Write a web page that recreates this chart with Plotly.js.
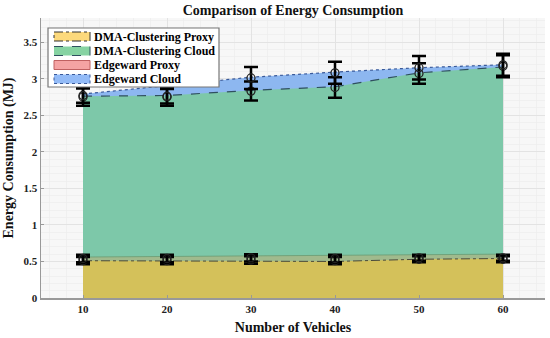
<!DOCTYPE html>
<html>
<head>
<meta charset="utf-8">
<script src="https://cdn.plot.ly/plotly-3.0.1.min.js"></script>
<style>html,body{margin:0;padding:0;background:#fff;}#chart{width:550px;height:338px;}</style>
</head>
<body>
<div id="chart"></div>
<script>
// ---- data ----
const vehicles = [10, 20, 30, 40, 50, 60];
const seriesNames = ['DMA-Clustering Proxy', 'DMA-Clustering Cloud', 'Edgeward Proxy', 'Edgeward Cloud'];
// area values
const dmaProxy  = [0.51, 0.51, 0.51, 0.50, 0.53, 0.54];
const dmaCloud  = [2.76, 2.77, 2.84, 2.89, 3.08, 3.16];
const edgeProxy = [0.56, 0.57, 0.58, 0.58, 0.59, 0.60];
const edgeCloud = [2.79, 2.90, 3.02, 3.09, 3.15, 3.19];
// error-bar means and errors
const dmaProxyMean  = [0.51, 0.51, 0.52, 0.51, 0.53, 0.53];
const dmaProxyErr   = [0.05, 0.05, 0.05, 0.05, 0.04, 0.04];
const edgeProxyMean = [0.54, 0.54, 0.55, 0.54, 0.55, 0.55];
const edgeProxyErr  = [0.05, 0.05, 0.05, 0.05, 0.04, 0.04];
const dmaCloudMean  = [2.75, 2.75, 2.83, 2.88, 3.07, 3.17];
const dmaCloudErr   = [0.12, 0.12, 0.13, 0.14, 0.14, 0.15];
const edgeCloudMean = [2.77, 2.76, 3.01, 3.08, 3.15, 3.19];
const edgeCloudErr  = [0.10, 0.10, 0.15, 0.15, 0.16, 0.15];
const yTicks = [0, 0.5, 1, 1.5, 2, 2.5, 3, 3.5];
const yTickText = ['0', '0.5', '1', '1.5', '2', '2.5', '3', '3.5'];

// ---- styles ----
const serif = 'Liberation Serif';
const areaFill = {cloudE: '#8db7f0', cloudD: '#7dc8a9', proxyE: '#a0ba8d', proxyD: '#d4c15a'};
const legendFill = ['#fcd97c', '#86d3a2', '#f5a3a3', '#93bbf7'];
const legendLine = [{c:'#333', d:'dashdot'}, {c:'#2f4f5f', d:'dash'}, {c:'#c06060', d:'solid'}, {c:'#3a5a9a', d:'dot'}];

function area(y, fill, lc, dash, w) {
  return {x: vehicles, y: y, type: 'scatter', mode: 'lines', fill: 'tozeroy',
    fillcolor: fill, line: {color: lc, dash: dash, width: w}, showlegend: false, hoverinfo: 'skip'};
}
function errs(y, e) {
  return {x: vehicles, y: y, type: 'scatter', mode: 'markers', showlegend: false,
    marker: {symbol: 'circle-open', size: 8, color: '#222', line: {width: 1.3, color: '#222'}},
    error_y: {type: 'data', array: e, visible: true, color: '#000', thickness: 2.5, width: 7}};
}

const data = [
  area(edgeCloud, areaFill.cloudE, '#3a5a9a', 'dot', 1.2),
  area(dmaCloud, areaFill.cloudD, '#2f4f5f', 'dash', 1.2),
  area(edgeProxy, areaFill.proxyE, '#6a9a72', 'solid', 0.8),
  area(dmaProxy, areaFill.proxyD, '#4a4a3a', 'dashdot', 1),
  errs(dmaProxyMean, dmaProxyErr),
  errs(edgeProxyMean, edgeProxyErr),
  errs(dmaCloudMean, dmaCloudErr),
  errs(edgeCloudMean, edgeCloudErr)
];

// ---- manual legend (paper coords) ----
const L = 41, R = 545, T = 18, B = 298;
const px = v => (v - L) / (R - L);
const py = v => (B - v) / (B - T);
const shapes = [{type: 'rect', xref: 'paper', yref: 'paper', x0: px(48), x1: px(219), y0: py(87), y1: py(28),
  fillcolor: '#ffffff', line: {color: '#777', width: 1.2}, layer: 'above'}];
const annotations = [];
const rowY = [36.5, 51, 65, 79];
seriesNames.forEach((n, i) => {
  shapes.push({type: 'rect', xref: 'paper', yref: 'paper', x0: px(54), x1: px(90), y0: py(rowY[i] + 4.5), y1: py(rowY[i] - 4.5),
    fillcolor: legendFill[i], line: {color: legendLine[i].c, width: 1, dash: legendLine[i].d}, layer: 'above'});
  annotations.push({xref: 'paper', yref: 'paper', x: px(92), y: py(rowY[i]), xanchor: 'left', yanchor: 'middle',
    text: '<b>' + n + '</b>', showarrow: false, font: {family: serif, size: 12, color: '#000'}});
});

const layout = {
  width: 550, height: 338,
  margin: {l: L, r: 550 - R, t: T, b: 338 - B},
  paper_bgcolor: '#ffffff', plot_bgcolor: '#f7f7f7',
  font: {family: serif, color: '#111'},
  title: {text: '<b>Comparison of Energy Consumption</b>', x: 293 / 550, xanchor: 'center', y: 1 - 10 / 338, yanchor: 'middle',
    font: {family: serif, size: 14, color: '#111'}},
  xaxis: {range: [5, 65], tickvals: vehicles, ticktext: vehicles.map(v => '<b>' + v + '</b>'), showline: true, linecolor: '#999', linewidth: 1.5,
    ticks: 'inside', ticklen: 3, tickcolor: '#999', zeroline: false,
    showgrid: true, gridcolor: '#e3e3e3', gridwidth: 1,
    minor: {dtick: 2, showgrid: true, gridcolor: '#ededed', gridwidth: 0.8},
    tickfont: {family: serif, size: 11, color: '#222'},
    title: {text: '<b>Number of Vehicles</b>', standoff: 8, font: {family: serif, size: 14, color: '#111'}}},
  yaxis: {range: [0, 3.83], tickvals: yTicks, ticktext: yTickText.map(t => '<b>' + t + '</b>'), showline: true, linecolor: '#999', linewidth: 1.5,
    ticks: 'inside', ticklen: 3, tickcolor: '#999', zeroline: false,
    showgrid: true, gridcolor: '#e3e3e3', gridwidth: 1,
    minor: {dtick: 0.1, showgrid: true, gridcolor: '#ededed', gridwidth: 0.8},
    tickfont: {family: serif, size: 11, color: '#222'},
    title: {text: '<b>Energy Consumption (MJ)</b>', standoff: 6, font: {family: serif, size: 14, color: '#111'}}},
  shapes: shapes,
  annotations: annotations,
  showlegend: false
};

Plotly.newPlot('chart', data, layout, {displayModeBar: false, staticPlot: true});
</script>
</body>
</html>
